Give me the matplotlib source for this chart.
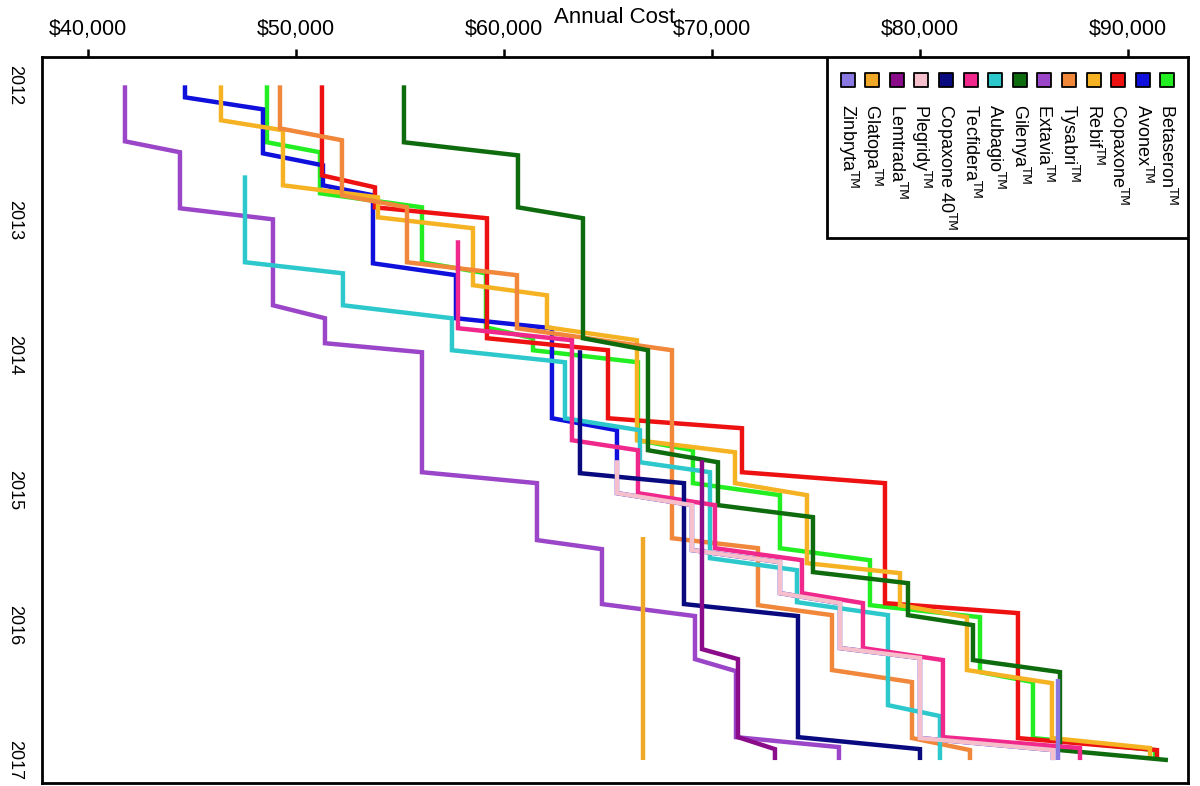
import matplotlib
matplotlib.use("Agg")
import matplotlib.pyplot as plt
from matplotlib.patches import Rectangle
from matplotlib.ticker import FuncFormatter

plt.rcParams['font.family'] = ['Liberation Sans', 'DejaVu Sans']

# ---- data: vertex dates (decimal years) and annual cost (USD) ----
betaseron_t = [2012.0, 2012.422, 2012.496, 2012.8, 2012.904, 2013.311, 2013.393, 2013.793, 2013.874, 2013.963,
               2014.052, 2014.63, 2014.704, 2014.948, 2015.037, 2015.43, 2015.519, 2015.852, 2015.941, 2016.348,
               2016.422, 2016.837, 2016.926, 2017.0]
betaseron_p = [48606, 48606, 51155, 51155, 56059, 56059, 59136, 59136, 61396, 61396,
               66444, 66444, 69088, 69088, 73271, 73271, 77599, 77599, 82888, 82888,
               85436, 85436, 91302, 91302]

avonex_t = [2012.0, 2012.089, 2012.178, 2012.504, 2012.593, 2012.741, 2012.815, 2013.319, 2013.407, 2013.726,
            2013.8, 2014.467, 2014.556, 2015.022, 2015.111, 2015.444, 2015.533, 2015.763, 2015.837, 2016.17,
            2016.244, 2016.837, 2016.926, 2017.0]
avonex_p = [44664, 44664, 48414, 48414, 51299, 51299, 53703, 53703, 57693, 57693,
            62309, 62309, 65434, 65434, 69040, 69040, 73271, 73271, 76156, 76156,
            80003, 80003, 86397, 86397]

copaxone_t = [2012.0, 2012.667, 2012.756, 2012.904, 2012.985, 2013.874, 2013.963, 2014.467, 2014.541, 2014.867,
              2014.948, 2015.837, 2015.911, 2016.837, 2016.926, 2017.0]
copaxone_p = [51251, 51251, 53800, 53800, 59184, 59184, 65002, 65002, 71445, 71445,
              78320, 78320, 84714, 84714, 91398, 91398]

rebif_t = [2012.0, 2012.259, 2012.333, 2012.741, 2012.83, 2012.978, 2013.059, 2013.481, 2013.556, 2013.793,
           2013.889, 2014.63, 2014.719, 2014.948, 2015.037, 2015.541, 2015.615, 2015.852, 2015.941, 2016.333,
           2016.43, 2016.837, 2016.911, 2017.0]
rebif_p = [46395, 46395, 49376, 49376, 53943, 53943, 58511, 58511, 62069, 62069,
           66396, 66396, 71108, 71108, 74569, 74569, 79041, 79041, 82262, 82262,
           86349, 86349, 91061, 91061]

tysabri_t = [2012.0, 2012.319, 2012.407, 2012.815, 2012.904, 2013.311, 2013.407, 2013.8, 2013.963, 2015.356,
             2015.43, 2015.852, 2015.926, 2016.333, 2016.422, 2016.837, 2016.926, 2017.0]
tysabri_p = [49231, 49231, 52212, 52212, 55338, 55338, 60626, 60626, 68079, 68079,
             72214, 72214, 75772, 75772, 79619, 79619, 82407, 82407]

extavia_t = [2012.0, 2012.415, 2012.496, 2012.911, 2012.993, 2013.63, 2013.726, 2013.911, 2013.978, 2014.867,
             2014.948, 2015.37, 2015.437, 2015.844, 2015.933, 2016.252, 2016.341, 2016.83, 2016.904, 2017.0]
extavia_p = [41779, 41779, 44423, 44423, 48895, 48895, 51395, 51395, 56059, 56059,
             61588, 61588, 64713, 64713, 69185, 69185, 71156, 71156, 76108, 76108]

gilenya_t = [2012.0, 2012.422, 2012.519, 2012.904, 2012.985, 2013.874, 2013.963, 2014.704, 2014.793, 2015.111,
             2015.2, 2015.607, 2015.689, 2015.926, 2016.0, 2016.259, 2016.348, 2016.926, 2017.0]
gilenya_p = [55193, 55193, 60674, 60674, 63800, 63800, 66925, 66925, 70290, 70290,
             74858, 74858, 79426, 79426, 82551, 82551, 86734, 86734, 91927]

aubagio_t = [2012.667, 2013.311, 2013.393, 2013.63, 2013.726, 2013.963, 2014.052, 2014.467, 2014.556, 2014.793,
             2014.867, 2015.504, 2015.593, 2015.83, 2015.926, 2016.593, 2016.674, 2017.0]
aubagio_p = [47549, 47549, 52260, 52260, 57501, 57501, 62934, 62934, 66540, 66540,
             69906, 69906, 74088, 74088, 78464, 78464, 80964, 80964]

tecfidera_t = [2013.148, 2013.8, 2013.889, 2014.63, 2014.704, 2015.022, 2015.111, 2015.43, 2015.519, 2015.763,
               2015.837, 2016.17, 2016.259, 2016.83, 2016.911, 2017.0]
tecfidera_p = [57790, 57790, 63271, 63271, 66444, 66444, 70146, 70146, 74329, 74329,
               77262, 77262, 81108, 81108, 87696, 87696]

copaxone40_t = [2013.963, 2014.874, 2014.948, 2015.844, 2015.933, 2016.83, 2016.919, 2017.0]
copaxone40_p = [63655, 63655, 68656, 68656, 74137, 74137, 80003, 80003]

plegridy_t = [2014.778, 2015.022, 2015.111, 2015.444, 2015.533, 2015.763, 2015.837, 2016.17,
              2016.244, 2016.837, 2016.926, 2017.0]
plegridy_p = [65434, 65434, 69040, 69040, 73271, 73271, 76156, 76156,
              80003, 80003, 86397, 86397]

lemtrada_t = [2014.778, 2016.178, 2016.252, 2016.83, 2016.919, 2017.0]
lemtrada_p = [69522, 69522, 71252, 71252, 73031, 73031]

glatopa_t = [2015.348, 2017.0]
glatopa_p = [66684, 66684]

zinbryta_t = [2016.4, 2017.0]
zinbryta_p = [86638, 86638]

drug_names = ["Betaseron", "Avonex", "Copaxone", "Rebif", "Tysabri", "Extavia", "Gilenya",
              "Aubagio", "Tecfidera", "Copaxone 40", "Plegridy", "Lemtrada", "Glatopa", "Zinbryta"]
drug_colors = ["#22EE22", "#1010DD", "#EE1111", "#F5B324", "#F0873A", "#9B45C8", "#0E6B0E",
               "#2CC8CC", "#F0288C", "#0A0A80", "#F5BFCB", "#8A0C8A", "#F0A828", "#8878E0"]
series = [(betaseron_t, betaseron_p), (avonex_t, avonex_p), (copaxone_t, copaxone_p),
          (rebif_t, rebif_p), (tysabri_t, tysabri_p), (extavia_t, extavia_p),
          (gilenya_t, gilenya_p), (aubagio_t, aubagio_p), (tecfidera_t, tecfidera_p),
          (copaxone40_t, copaxone40_p), (plegridy_t, plegridy_p), (lemtrada_t, lemtrada_p),
          (glatopa_t, glatopa_p), (zinbryta_t, zinbryta_p)]

cost_ticks = [40000, 50000, 60000, 70000, 80000, 90000]
year_ticks = [2012, 2013, 2014, 2015, 2016, 2017]

# ---- figure ----
fig = plt.figure(figsize=(12, 7.86), dpi=100)
ax = fig.add_axes([0.035, 0.0038, 0.955, 0.9237])

for (t, p), c in zip(series, drug_colors):
    ax.plot(p, t, color=c, lw=3.2, solid_capstyle='butt', solid_joinstyle='miter')

ax.set_xlim(37790, 92890)
ax.set_ylim(2017.17, 2011.79)

ax.xaxis.tick_top()
ax.xaxis.set_label_position('top')
ax.set_xticks(cost_ticks)
ax.xaxis.set_major_formatter(FuncFormatter(lambda v, pos: f"${v:,.0f}"))
ax.set_xlabel("Annual Cost", fontsize=16, labelpad=-3)
ax.tick_params(axis='x', which='major', direction='out', length=6, width=1.8,
               labelsize=15.5, pad=6)

ax.set_yticks(year_ticks)
ax.set_yticklabels([str(y) for y in year_ticks], rotation=-90, va='center', ha='center')
ax.tick_params(axis='y', length=0, labelsize=13, pad=20)
for lab in ax.get_yticklabels():
    lab.set_y(lab.get_position()[1])

for s in ax.spines.values():
    s.set_linewidth(2.0)
    s.set_color('black')

# ---- legend (horizontal, rotated labels) ----
ax.add_patch(Rectangle((0.685, 0.751), 0.315, 0.249, transform=ax.transAxes,
                       facecolor='white', edgecolor='black', lw=2.0, zorder=5))
n = len(drug_names)
x0, x1 = 0.703, 0.982
for i, (name, col) in enumerate(zip(drug_names[::-1], drug_colors[::-1])):
    xx = x0 + (x1 - x0) * i / (n - 1)
    ax.scatter([xx], [0.968], marker='s', s=100, color=col, edgecolor='black',
               linewidth=1.3, transform=ax.transAxes, zorder=6, clip_on=False)
    ax.text(xx, 0.935, name + r"$^{\mathrm{TM}}$", rotation=-90, ha='center', va='top',
            fontsize=13, transform=ax.transAxes, zorder=6)

fig.savefig("out.png", dpi=100)
